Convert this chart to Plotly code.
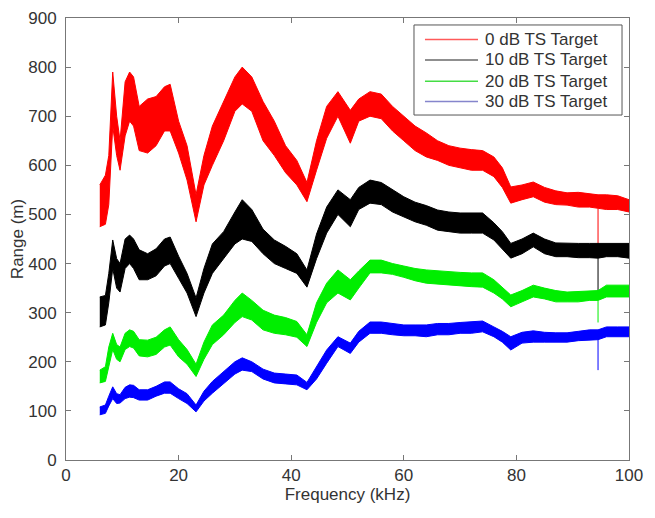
import plotly.graph_objects as go

freq = [6.0, 7.0, 7.6, 8.3, 9.0, 9.6, 10.5, 11.3, 12.0, 13.0, 14.5, 16.0, 17.5, 18.5, 20.0,
        21.5, 23.1, 24.5, 26.0, 28.0, 30.0, 31.3, 33.0, 35.0, 37.0, 39.0, 41.0, 42.8, 44.5,
        46.3, 48.3, 50.5, 52.0, 54.0, 56.0, 58.0, 60.0, 62.0, 64.0, 66.0, 68.0, 70.0, 72.0,
        74.0, 76.0, 77.5, 79.0, 81.0, 83.0, 85.0, 87.0, 89.0, 91.0, 93.0, 94.5, 96.0, 98.0, 100.0]

red_lo = [475, 480, 520, 680, 620, 590, 660, 690, 680, 630, 625, 640, 670, 670, 625,
          570, 485, 560, 600, 650, 710, 725, 710, 650, 620, 585, 560, 526, 590,
          655, 700, 645, 690, 700, 695, 670, 650, 630, 617, 610, 600, 595, 590,
          590, 577, 555, 523, 530, 536, 525, 520, 519, 515, 515, 512, 510, 510, 505]
red_hi = [560, 580, 620, 790, 700, 650, 770, 790, 780, 720, 735, 740, 760, 765, 690,
          640, 540, 620, 680, 730, 780, 800, 780, 730, 690, 640, 610, 565, 650,
          720, 750, 712, 735, 750, 745, 720, 700, 680, 666, 650, 640, 635, 632,
          630, 617, 595, 556, 560, 566, 555, 548, 544, 545, 542, 540, 540, 538, 530]

black_lo = [271, 275, 320, 390, 350, 342, 390, 400, 390, 367, 367, 375, 395, 400, 370,
            340, 292, 340, 380, 410, 440, 450, 445, 420, 400, 390, 380, 352, 410,
            462, 500, 475, 510, 523, 520, 505, 495, 485, 478, 468, 465, 462, 462,
            462, 448, 430, 411, 420, 434, 420, 414, 414, 412, 412, 411, 414, 414, 411]
black_hi = [332, 335, 380, 448, 410, 400, 450, 458, 450, 428, 420, 430, 450, 454, 415,
            380, 330, 390, 440, 465, 505, 530, 510, 470, 448, 435, 420, 387, 460,
            515, 550, 530, 555, 570, 565, 550, 536, 525, 518, 509, 505, 503, 503,
            503, 483, 465, 441, 450, 462, 450, 442, 441, 441, 441, 441, 441, 441, 441]

green_lo = [157, 160, 190, 225, 205, 200, 225, 231, 228, 212, 210, 215, 230, 234, 210,
            195, 170, 205, 235, 255, 280, 292, 285, 265, 258, 255, 250, 231, 280,
            320, 340, 326, 350, 381, 381, 378, 372, 365, 360, 358, 356, 355, 353,
            352, 340, 328, 312, 322, 332, 328, 322, 322, 322, 325, 325, 332, 332, 332]
green_hi = [183, 190, 230, 258, 235, 230, 258, 265, 262, 245, 244, 250, 265, 271, 245,
            225, 195, 240, 275, 295, 325, 340, 325, 305, 295, 290, 282, 255, 320,
            360, 387, 367, 385, 407, 407, 400, 395, 390, 387, 385, 383, 382, 381,
            381, 367, 352, 336, 345, 356, 350, 345, 342, 343, 345, 345, 356, 356, 356]

blue_lo = [92, 95, 110, 125, 115, 116, 125, 128, 127, 122, 122, 130, 136, 136, 125,
           115, 98, 120, 136, 155, 175, 183, 180, 165, 157, 155, 153, 143, 165,
           197, 231, 217, 240, 258, 258, 255, 253, 253, 251, 255, 255, 258, 258,
           261, 251, 240, 224, 238, 240, 240, 240, 240, 243, 245, 245, 251, 251, 251]
blue_hi = [108, 112, 130, 149, 135, 133, 148, 153, 152, 143, 143, 150, 159, 159, 145,
           135, 112, 140, 160, 180, 200, 208, 200, 185, 177, 175, 173, 158, 190,
           224, 251, 238, 262, 281, 281, 278, 275, 275, 275, 278, 278, 280, 281,
           283, 271, 262, 251, 260, 263, 260, 259, 259, 262, 265, 265, 271, 271, 271]

# single-sample dropouts at one frequency: [top, bottom]
spike_freq = 94.5
red_spike = [512, 430]
black_spike = [411, 326]
green_spike = [325, 280]
blue_spike = [245, 183]

names = ["0 dB TS Target", "10 dB TS Target", "20 dB TS Target", "30 dB TS Target"]
colors = ["#ff0000", "#000000", "#00ee00", "#0000ff"]
legend_colors = ["#ff5a5a", "#6a6a6a", "#44dd44", "#8585cc"]
bands = [(red_lo, red_hi, red_spike), (black_lo, black_hi, black_spike),
         (green_lo, green_hi, green_spike), (blue_lo, blue_hi, blue_spike)]

FONT = "Liberation Sans, Arial, sans-serif"
TXT = "#333333"

fig = go.Figure()
for (lo, hi, sp), col in zip(bands, colors):
    fig.add_trace(go.Scatter(x=freq, y=lo, mode="lines", line=dict(color=col, width=1),
                             showlegend=False, hoverinfo="skip"))
    fig.add_trace(go.Scatter(x=freq, y=hi, mode="lines", line=dict(color=col, width=1),
                             fill="tonexty", fillcolor=col, showlegend=False, hoverinfo="skip"))
    fig.add_trace(go.Scatter(x=[spike_freq, spike_freq], y=sp, mode="lines",
                             line=dict(color=col, width=1), showlegend=False, hoverinfo="skip"))

# legend drawn as a box with line samples and labels (paper coordinates)
lx0, lx1, ly0, ly1 = 0.6181, 0.9876, 0.7805, 0.9842
shapes = [dict(type="rect", xref="paper", yref="paper", x0=lx0, x1=lx1, y0=ly0, y1=ly1,
               line=dict(color="#555555", width=1), fillcolor="white", layer="above")]
annotations = []
row_y = [0.9513, 0.905, 0.8570, 0.811]
for name, col, yy in zip(names, legend_colors, row_y):
    shapes.append(dict(type="line", xref="paper", yref="paper", x0=0.6376, x1=0.7318,
                       y0=yy, y1=yy, line=dict(color=col, width=1.5), layer="above"))
    annotations.append(dict(xref="paper", yref="paper", x=0.7407, y=yy, text=name,
                            showarrow=False, xanchor="left", yanchor="middle",
                            font=dict(family=FONT, size=17, color=TXT)))

axis_common = dict(showline=True, linecolor="#777777", linewidth=1, mirror="ticks",
                   ticks="inside", ticklen=5, tickcolor="#777777", showgrid=False,
                   zeroline=False, automargin=False,
                   tickfont=dict(family=FONT, size=17, color=TXT))

# page body has an 8px default margin, so offsets are compensated here
fig.update_layout(
    width=655, height=518,
    margin=dict(l=58, r=34, t=10, b=66),
    paper_bgcolor="white", plot_bgcolor="white",
    font=dict(family=FONT, size=17, color=TXT),
    xaxis=dict(range=[0, 100], dtick=20, ticklabelstandoff=0,
               title=dict(text="Frequency (kHz)", standoff=2, font=dict(family=FONT, size=17, color=TXT)),
               **axis_common),
    yaxis=dict(range=[0, 900], dtick=100, ticklabelstandoff=5,
               title=dict(text="Range (m)", standoff=6, font=dict(family=FONT, size=17, color=TXT)),
               **axis_common),
    shapes=shapes,
    annotations=annotations,
    showlegend=False,
)

fig.write_html("out.html")
